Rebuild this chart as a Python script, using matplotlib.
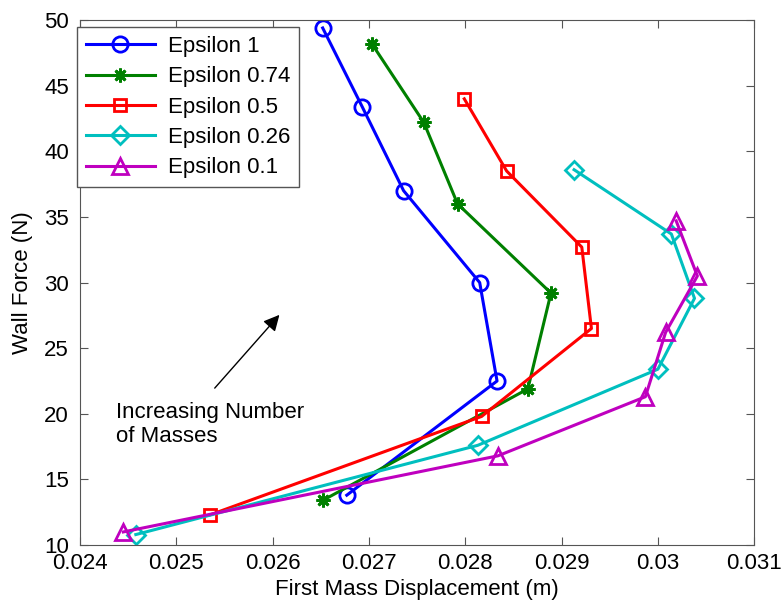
import matplotlib
matplotlib.use('Agg')
import matplotlib.pyplot as plt
from matplotlib.ticker import FuncFormatter

plt.rcParams['font.family'] = ['Liberation Sans', 'DejaVu Sans']

# data
labels = ['Epsilon 1', 'Epsilon 0.74', 'Epsilon 0.5', 'Epsilon 0.26', 'Epsilon 0.1']

eps1_x = [0.02652, 0.02693, 0.02736, 0.02815, 0.02833, 0.02677]
eps1_y = [49.4, 43.4, 37.0, 30.0, 22.5, 13.8]

eps074_x = [0.02703, 0.02757, 0.02792, 0.02889, 0.02865, 0.02652]
eps074_y = [48.2, 42.2, 36.0, 29.2, 21.9, 13.4]

eps05_x = [0.02799, 0.02843, 0.02921, 0.02931, 0.02817, 0.02535]
eps05_y = [44.0, 38.5, 32.7, 26.5, 19.8, 12.3]

eps026_x = [0.02913, 0.03014, 0.03038, 0.03000, 0.02813, 0.02458]
eps026_y = [38.6, 33.7, 28.8, 23.4, 17.6, 10.8]

eps01_x = [0.03019, 0.03041, 0.03008, 0.02987, 0.02834, 0.02445]
eps01_y = [34.7, 30.5, 26.2, 21.3, 16.8, 11.0]

series = [(eps1_x, eps1_y), (eps074_x, eps074_y), (eps05_x, eps05_y),
          (eps026_x, eps026_y), (eps01_x, eps01_y)]
colors = ['#0000ff', '#008000', '#ff0000', '#00bfbf', '#bf00bf']
markers = ['o', (8, 2, 0), 's', 'D', '^']
msizes = [11, 10, 9, 9, 11]

fs = 16

fig = plt.figure(figsize=(7.84, 6.09), dpi=100)
ax = fig.add_axes([0.102, 0.105, 0.860, 0.862])

for (xs, ys), c, m, ms, lab in zip(series, colors, markers, msizes, labels):
    ax.plot(xs, ys, color=c, lw=2.2, marker=m, ms=ms, mfc='none',
            mec=c, mew=2, label=lab)

ax.set_xlim(0.024, 0.031)
ax.set_ylim(10, 50)
ax.set_xticks([0.024, 0.025, 0.026, 0.027, 0.028, 0.029, 0.030, 0.031])
ax.set_yticks(range(10, 51, 5))
ax.xaxis.set_major_formatter(FuncFormatter(lambda v, p: '%g' % round(v, 4)))
ax.tick_params(direction='in', top=True, right=True, labelsize=fs,
               length=6, color='#555555')
ax.tick_params(axis='x', pad=6)
ax.tick_params(axis='y', pad=8)
for s in ax.spines.values():
    s.set_color('#555555')

ax.set_xlabel('First Mass Displacement (m)', fontsize=fs, labelpad=3)
ax.set_ylabel('Wall Force (N)', fontsize=fs, labelpad=8)

ax.annotate('', xy=(0.02609, 27.7), xytext=(0.02538, 21.8),
            arrowprops=dict(arrowstyle='-|>', color='black', lw=1,
                            mutation_scale=24))
ax.text(0.02437, 19.2, 'Increasing Number\nof Masses', fontsize=fs,
        va='center', ha='left', linespacing=1.15)

leg = ax.legend(loc='upper left', bbox_to_anchor=(-0.0045, 0.9867), fontsize=fs,
                fancybox=False, edgecolor='#555555', framealpha=1,
                handlelength=3.1, handletextpad=0.6, borderpad=0.4,
                labelspacing=0.42, borderaxespad=0)
leg.get_frame().set_linewidth(1)

fig.savefig('out.png', dpi=100)
